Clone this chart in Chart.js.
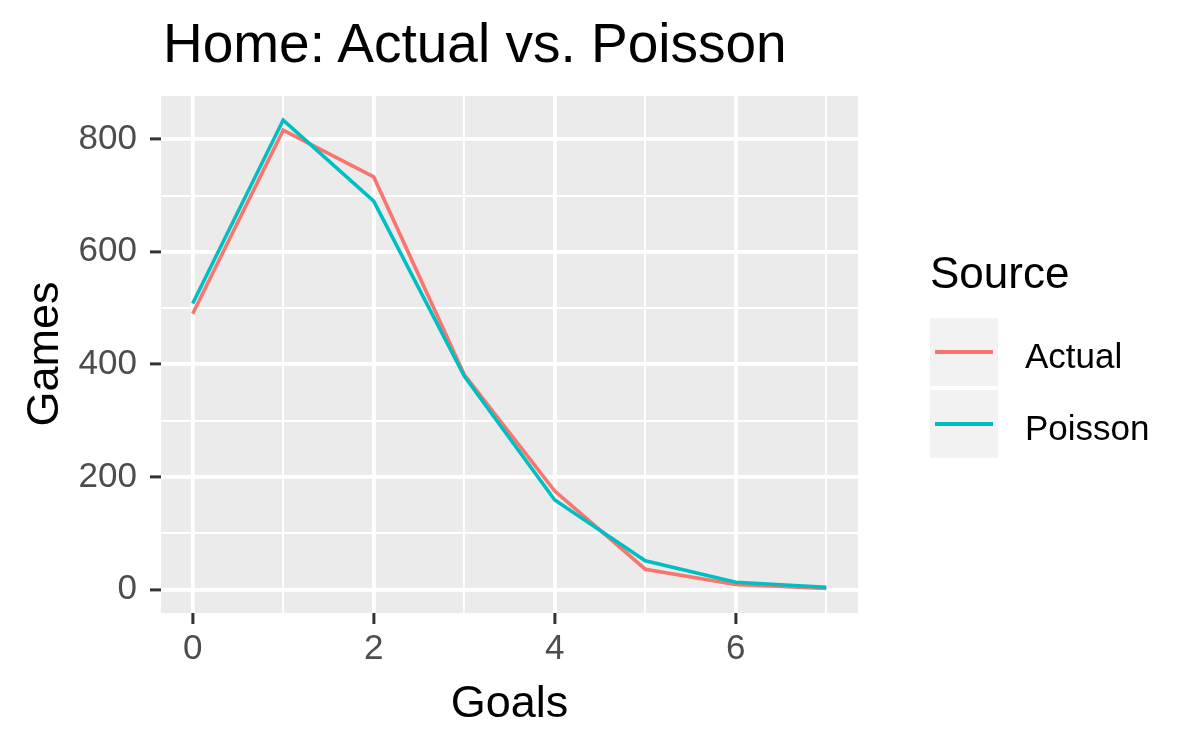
<!DOCTYPE html>
<html>
<head>
<meta charset="utf-8">
<script src="https://cdn.jsdelivr.net/npm/chart.js@4.4.1/dist/chart.umd.min.js"></script>
<style>
  html, body { margin: 0; padding: 0; background: #fff; }
  #wrap { position: relative; width: 1200px; height: 750px; font-family: "Liberation Sans", Arial, sans-serif; }
  #wrap canvas { position: absolute; left: 0; top: 0; }
  .txt { position: absolute; white-space: nowrap; color: #000; }
  .key { position: absolute; width: 68px; height: 68px; background: #F2F2F2; }
  .key span { position: absolute; left: 5px; top: 32px; width: 58px; height: 3.5px; }
</style>
</head>
<body>
<div id="wrap">
  <canvas id="chart" width="1200" height="750"></canvas>
  <div class="txt" style="left:163px; top:16px; font-size:55px; line-height:55px;">Home: Actual vs. Poisson</div>
  <div class="txt" style="left:161px; width:697px; text-align:center; top:679px; font-size:45px; line-height:45px;">Goals</div>
  <div class="txt" style="left:-157px; top:332px; width:400px; height:44px; text-align:center; font-size:45px; line-height:44px; transform:rotate(-90deg);">Games</div>
  <div id="legend"></div>
</div>
<script>
// données
const goals = [0, 1, 2, 3, 4, 5, 6, 7];
const actual = [490, 816, 733, 382, 175, 36, 9, 2];
const poisson = [508, 834, 690, 379, 159, 51, 13, 4];

const seriesNames = ['Actual', 'Poisson'];
const seriesColors = ['#F8766D', '#00BFC4'];

const xTicks = [0, 1, 2, 3, 4, 5, 6, 7];
const xTickLabels = ['0', '', '2', '', '4', '', '6', ''];
const yTicks = [0, 100, 200, 300, 400, 500, 600, 700, 800];
const yTickLabels = ['0', '', '200', '', '400', '', '600', '', '800'];

// fond gris du panneau
const panelBg = {
    id: 'panelBg',
    beforeDraw(chart) {
        const a = chart.chartArea;
        const c = chart.ctx;
        c.save();
        c.fillStyle = '#EBEBEB';
        c.fillRect(a.left, a.top, a.right - a.left, a.bottom - a.top);
        c.restore();
    }
};

function isMajor(i) { return i % 2 === 0; }

const ctx = document.getElementById('chart').getContext('2d');
const chart = new Chart(ctx, {
    type: 'line',
    data: {
        datasets: [
            {
                label: seriesNames[0],
                data: goals.map((g, i) => ({ x: g, y: actual[i] })),
                borderColor: seriesColors[0],
                borderWidth: 3.6,
                pointRadius: 0,
                tension: 0,
                order: 2
            },
            {
                label: seriesNames[1],
                data: goals.map((g, i) => ({ x: g, y: poisson[i] })),
                borderColor: seriesColors[1],
                borderWidth: 3.6,
                pointRadius: 0,
                tension: 0,
                order: 1
            }
        ]
    },
    options: {
        responsive: false,
        animation: false,
        devicePixelRatio: 1,
        layout: { padding: { left: 0, right: 342, top: 96, bottom: 0 } },
        plugins: { legend: { display: false }, tooltip: { enabled: false } },
        scales: {
            x: {
                type: 'linear',
                min: -0.35,
                max: 7.35,
                afterFit: s => { s.height = 137; },
                afterBuildTicks: s => { s.ticks = xTicks.map(v => ({ value: v })); },
                border: { display: false },
                grid: {
                    color: '#FFFFFF',
                    lineWidth: c => isMajor(c.index) ? 3.8 : 1.9,
                    tickColor: c => isMajor(c.index) ? '#333333' : 'rgba(0,0,0,0)',
                    tickLength: 11,
                    tickWidth: 3
                },
                ticks: {
                    autoSkip: false,
                    maxRotation: 0,
                    padding: 4,
                    color: '#4D4D4D',
                    font: { family: '"Liberation Sans", Arial', size: 35 },
                    callback: (v, i) => xTickLabels[i]
                }
            },
            y: {
                min: -41.75,
                max: 876.75,
                afterFit: s => { s.width = 161; },
                afterBuildTicks: s => { s.ticks = yTicks.map(v => ({ value: v })); },
                border: { display: false },
                grid: {
                    color: '#FFFFFF',
                    lineWidth: c => isMajor(c.index) ? 3.8 : 1.9,
                    tickColor: c => isMajor(c.index) ? '#333333' : 'rgba(0,0,0,0)',
                    tickLength: 11,
                    tickWidth: 3
                },
                ticks: {
                    autoSkip: false,
                    padding: 13,
                    color: '#4D4D4D',
                    font: { family: '"Liberation Sans", Arial', size: 35 },
                    callback: (v, i) => yTickLabels[i]
                }
            }
        }
    },
    plugins: [panelBg]
});

// légende à la ggplot
const legend = document.getElementById('legend');
let html = '<div class="txt" style="left:930px; top:251px; font-size:44px; line-height:44px;">Source</div>';
seriesNames.forEach((name, i) => {
    const top = 318 + i * 72;
    html += '<div class="key" style="left:930px; top:' + top + 'px;"><span style="background:' + seriesColors[i] + ';"></span></div>';
    html += '<div class="txt" style="left:1025px; top:' + (top + 19.5) + 'px; font-size:35px; line-height:35px;">' + name + '</div>';
});
legend.innerHTML = html;
</script>
</body>
</html>
